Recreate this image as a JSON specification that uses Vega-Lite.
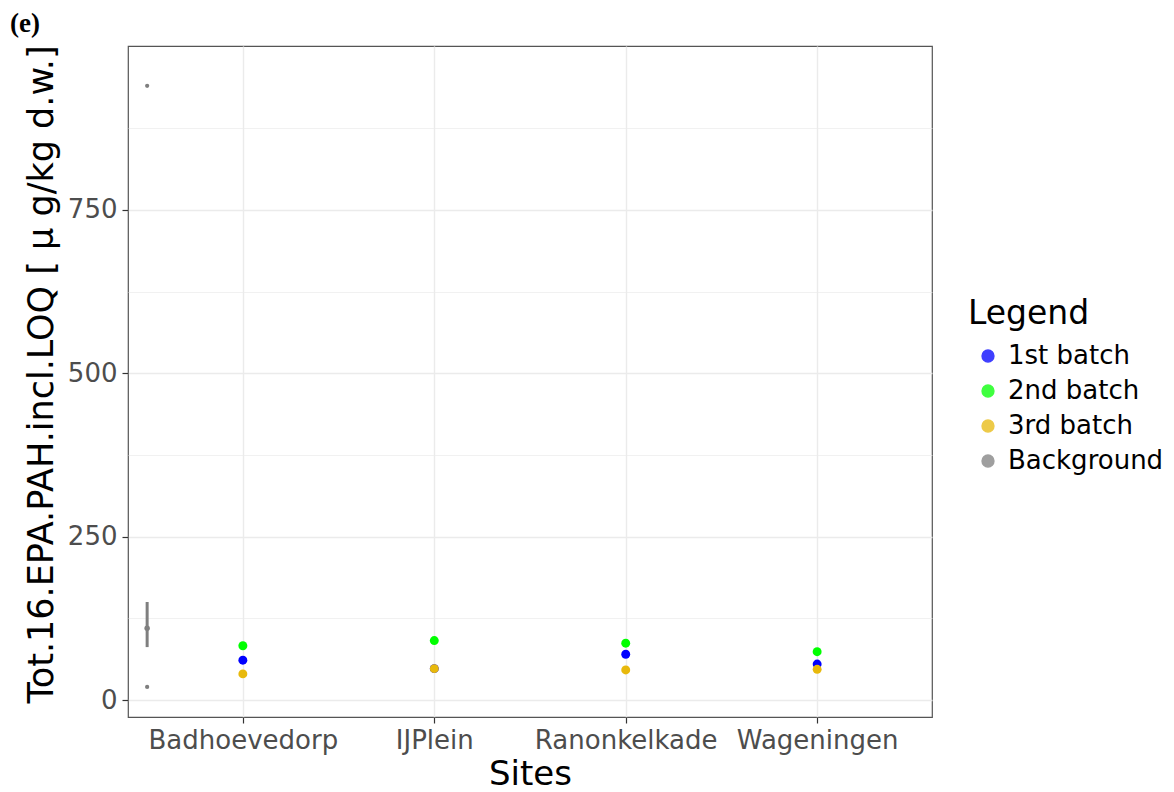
{
  "$schema": "https://vega.github.io/schema/vega-lite/v6.json",
  "width": 804,
  "height": 671,
  "autosize": {"type": "none"},
  "padding": {"left": 128, "top": 46, "right": 242, "bottom": 75},
  "background": "white",
  "title": {"text": "(e)", "anchor": "start", "frame": "group", "dx": -118, "offset": 7, "font": "Liberation Serif", "fontWeight": "bold", "fontSize": 27, "color": "black"},
  "config": {
    "font": "DejaVu Sans",
    "view": {"stroke": "#555555", "strokeWidth": 1.2}
  },
  "data": {
    "values": [
      {"site": "Badhoevedorp", "pos": 1, "batch": "1st batch", "value": 61, "kind": "site"},
      {"site": "IJPlein", "pos": 2, "batch": "1st batch", "value": 48, "kind": "site"},
      {"site": "Ranonkelkade", "pos": 3, "batch": "1st batch", "value": 70, "kind": "site"},
      {"site": "Wageningen", "pos": 4, "batch": "1st batch", "value": 55, "kind": "site"},
      {"site": "Badhoevedorp", "pos": 1, "batch": "2nd batch", "value": 83, "kind": "site"},
      {"site": "IJPlein", "pos": 2, "batch": "2nd batch", "value": 91, "kind": "site"},
      {"site": "Ranonkelkade", "pos": 3, "batch": "2nd batch", "value": 87, "kind": "site"},
      {"site": "Wageningen", "pos": 4, "batch": "2nd batch", "value": 74, "kind": "site"},
      {"site": "Badhoevedorp", "pos": 1, "batch": "3rd batch", "value": 40, "kind": "site"},
      {"site": "IJPlein", "pos": 2, "batch": "3rd batch", "value": 48, "kind": "site"},
      {"site": "Ranonkelkade", "pos": 3, "batch": "3rd batch", "value": 46, "kind": "site"},
      {"site": "Wageningen", "pos": 4, "batch": "3rd batch", "value": 47, "kind": "site"},
      {"site": "Background", "pos": 0.5, "batch": "Background", "value": 110, "lo": 81, "hi": 150, "kind": "mean"},
      {"site": "Background", "pos": 0.5, "batch": "Background", "value": 940, "kind": "sample"},
      {"site": "Background", "pos": 0.5, "batch": "Background", "value": 20, "kind": "sample"}
    ]
  },
  "encoding": {
    "x": {
      "field": "pos", "type": "quantitative",
      "scale": {"domain": [0.4, 4.6], "nice": false, "zero": false},
      "axis": {
        "title": "Sites", "values": [1, 2, 3, 4],
        "labelExpr": "['','Badhoevedorp','IJPlein','Ranonkelkade','Wageningen'][datum.value]",
        "grid": true, "gridColor": "#EBEBEB", "gridWidth": 1.4,
        "domain": false, "tickColor": "#333333", "tickSize": 6, "tickWidth": 1.2,
        "labelFontSize": 26, "labelColor": "#4D4D4D", "labelPadding": 4, "labelFlush": false, "labelOverlap": false, "labelLimit": 400,
        "titleFontSize": 34, "titleColor": "black", "titleFontWeight": "normal", "titlePadding": 4
      }
    },
    "y": {
      "field": "value", "type": "quantitative",
      "scale": {"domain": [-26, 1001], "nice": false, "zero": false},
      "axis": {
        "title": "Tot.16.EPA.PAH.incl.LOQ [ μ g/kg d.w.]",
        "values": [0, 125, 250, 375, 500, 625, 750, 875],
        "labelExpr": "datum.value % 250 === 0 ? datum.label : ''",
        "grid": true, "gridColor": "#EBEBEB",
        "gridWidth": {"condition": {"test": "datum.value % 250 === 0", "value": 1.4}, "value": 0.7},
        "tickOpacity": {"condition": {"test": "datum.value % 250 === 0", "value": 1}, "value": 0},
        "domain": false, "tickColor": "#333333", "tickSize": 6, "tickWidth": 1.2,
        "labelFontSize": 26, "labelColor": "#4D4D4D", "labelPadding": 5, "labelFlush": false,
        "titleFontSize": 35, "titleColor": "black", "titleFontWeight": "normal", "titlePadding": 8, "titleY": 328
      }
    },
    "color": {
      "field": "batch", "type": "nominal",
      "scale": {"domain": ["1st batch", "2nd batch", "3rd batch", "Background"], "range": ["#0000FF", "#00FF00", "#E8B90C", "#7F7F7F"]},
      "legend": {
        "title": "Legend", "orient": "none", "legendX": 840, "legendY": 252,
        "titleFontSize": 33, "titleFontWeight": "normal", "titleColor": "black", "titlePadding": 12,
        "labelFontSize": 26, "labelColor": "black", "symbolType": "circle", "symbolSize": 140, "labelLimit": 300,
        "symbolOpacity": 0.75, "symbolOffset": 7, "rowPadding": 9, "labelOffset": 7
      }
    }
  },
  "layer": [
    {
      "transform": [{"filter": "datum.kind === 'site'"}],
      "mark": {"type": "point", "filled": true, "size": 80, "opacity": 1}
    },
    {
      "transform": [{"filter": "datum.kind === 'mean'"}],
      "mark": {"type": "rule", "strokeWidth": 3},
      "encoding": {"y": {"field": "lo", "type": "quantitative"}, "y2": {"field": "hi"}}
    },
    {
      "transform": [{"filter": "datum.kind === 'mean'"}],
      "mark": {"type": "point", "filled": true, "size": 30, "opacity": 1}
    },
    {
      "transform": [{"filter": "datum.kind === 'sample'"}],
      "mark": {"type": "point", "filled": true, "size": 18, "opacity": 1}
    }
  ]
}
